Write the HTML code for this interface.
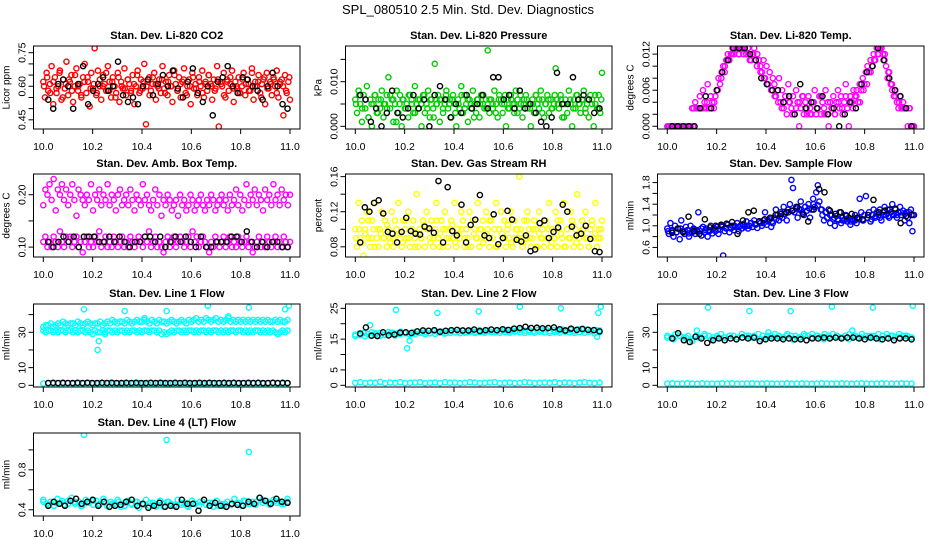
<!DOCTYPE html>
<html><head><meta charset="utf-8"><style>
html,body{margin:0;padding:0;background:#fff}
svg{display:block;font-family:"Liberation Sans",Arial,sans-serif}
</style></head><body>
<svg id="c" width="936" height="540" viewBox="0 0 936 540">
<text x="468" y="14" text-anchor="middle" font-size="13">SPL_080510  2.5 Min. Std. Dev. Diagnostics</text>
</svg>
<script>
// ---- data (x = time, evenly spaced from 10.0 to 11.0) ----
const xTicks=[10.0,10.2,10.4,10.6,10.8,11.0];
const co2Red=[0.62,0.55,0.66,0.58,0.61,0.69,0.52,0.64,0.57,0.60,0.67,0.54,0.63,0.59,0.71,0.56,0.62,0.65,0.53,0.60,0.68,0.58,0.61,0.55,0.64,0.70,0.57,0.62,0.51,0.66,0.59,0.77,0.56,0.67,0.60,0.54,0.65,0.61,0.58,0.69,0.62,0.55,0.64,0.60,0.57,0.66,0.53,0.62,0.59,0.68,0.56,0.63,0.61,0.58,0.65,0.52,0.60,0.67,0.57,0.63,0.59,0.70,0.43,0.62,0.64,0.58,0.61,0.66,0.54,0.60,0.63,0.57,0.69,0.59,0.62,0.56,0.65,0.60,0.53,0.67,0.61,0.58,0.64,0.55,0.62,0.68,0.57,0.60,0.63,0.52,0.66,0.59,0.61,0.56,0.64,0.60,0.67,0.55,0.62,0.58,0.65,0.61,0.54,0.63,0.59,0.69,0.42,0.62,0.60,0.66,0.55,0.63,0.58,0.61,0.67,0.53,0.62,0.59,0.64,0.57,0.60,0.66,0.56,0.63,0.61,0.58,0.68,0.54,0.62,0.60,0.65,0.57,0.61,0.63,0.52,0.66,0.59,0.62,0.56,0.64,0.60,0.67,0.55,0.61,0.63,0.47,0.65,0.57,0.62,0.54];
const co2Red2=[0.60,0.64,0.57,0.62,0.59,0.66,0.55,0.61,0.63,0.58,0.65,0.60,0.56,0.62,0.64,0.59,0.61,0.57,0.63,0.60,0.66,0.58,0.62,0.55,0.64,0.60,0.59,0.63,0.57,0.61,0.65,0.58,0.62,0.60,0.56,0.64,0.61,0.59,0.63,0.57,0.62,0.60,0.65,0.58,0.61,0.63,0.56,0.60,0.64,0.59,0.62,0.57,0.61,0.65,0.60,0.58,0.63,0.61,0.56,0.62,0.64,0.59,0.60,0.57,0.63,0.61,0.58,0.66,0.60,0.62,0.55,0.64,0.59,0.61,0.63,0.57,0.62,0.60,0.58,0.64];
const co2Black=[0.54,0.50,0.61,0.63,0.60,0.50,0.61,0.69,0.52,0.58,0.61,0.64,0.58,0.60,0.71,0.56,0.53,0.55,0.52,0.60,0.63,0.56,0.61,0.65,0.60,0.67,0.59,0.55,0.62,0.68,0.57,0.53,0.60,0.47,0.62,0.64,0.69,0.60,0.57,0.64,0.63,0.60,0.58,0.54,0.60,0.66,0.60,0.52,0.50];
const presGreen=[0.006,0.003,0.008,0.005,0.001,0.007,0.004,0.009,0.002,0.006,0.000,0.005,0.007,0.003,0.006,0.004,0.008,0.002,0.005,0.007,0.011,0.004,0.006,0.001,0.005,0.008,0.003,0.007,0.000,0.006,0.004,0.005,0.002,0.007,0.006,0.003,0.009,0.005,0.004,0.006,0.000,0.007,0.003,0.005,0.008,0.002,0.006,0.004,0.014,0.005,0.007,0.001,0.006,0.003,0.005,0.008,0.004,0.006,0.002,0.007,0.005,0.000,0.006,0.004,0.009,0.003,0.007,0.005,0.001,0.006,0.004,0.008,0.005,0.003,0.006,0.002,0.007,0.005,0.004,0.006,0.017,0.003,0.006,0.004,0.008,0.005,0.002,0.007,0.006,0.003,0.005,0.000,0.006,0.004,0.007,0.005,0.003,0.008,0.006,0.004,0.005,0.002,0.006,0.007,0.004,0.005,0.000,0.006,0.003,0.007,0.005,0.004,0.008,0.006,0.002,0.005,0.007,0.003,0.006,0.004,0.005,0.013,0.006,0.004,0.007,0.002,0.005,0.006,0.003,0.008,0.005,0.000,0.006,0.004,0.007,0.005,0.003,0.006,0.008,0.004,0.005,0.002,0.007,0.006,0.000,0.005,0.004,0.007,0.003,0.012];
const presGreen2=[0.005,0.007,0.004,0.006,0.002,0.005,0.007,0.003,0.006,0.005,0.004,0.007,0.006,0.001,0.005,0.006,0.004,0.007,0.005,0.003,0.006,0.005,0.007,0.004,0.006,0.002,0.005,0.006,0.004,0.007,0.005,0.006,0.003,0.005,0.007,0.004,0.006,0.005,0.002,0.006,0.005,0.007,0.004,0.006,0.005,0.003,0.006,0.005,0.007,0.004,0.006,0.005,0.003,0.007,0.005,0.006,0.004,0.005,0.007,0.006,0.003,0.005,0.006,0.004,0.007,0.005,0.006,0.002,0.005,0.006,0.004,0.007,0.005,0.006,0.003,0.006,0.005,0.007,0.004,0.006];
const presBlack=[0.007,0.006,0.001,0.004,0.000,0.003,0.008,0.003,0.002,0.004,0.007,0.004,0.006,0.000,0.007,0.009,0.006,0.002,0.005,0.003,0.007,0.004,0.005,0.007,0.004,0.011,0.011,0.006,0.007,0.004,0.008,0.004,0.005,0.003,0.001,0.000,0.002,0.012,0.005,0.005,0.011,0.006,0.007,0.006,0.003,0.004];
const tempMag=[0,0,0,0,0,0,0,0,0,0,0,0,0,0,0,0,0.003,0.003,0.004,0.003,0.003,0.005,0.003,0.006,0.004,0.003,0.007,0.003,0.005,0.004,0.003,0.005,0.006,0.008,0.007,0.009,0.010,0.009,0.011,0.012,0.011,0.012,0.013,0.012,0.013,0.013,0.012,0.013,0.013,0.012,0.013,0.012,0.013,0.012,0.011,0.012,0.013,0.011,0.012,0.011,0.010,0.009,0.011,0.008,0.010,0.007,0.009,0.006,0.008,0.007,0.005,0.006,0.008,0.004,0.006,0.003,0.005,0.002,0.007,0.004,0.003,0.005,0.002,0.006,0.004,0.000,0.003,0.005,0.002,0.004,0.002,0.005,0.003,0.002,0.004,0.006,0.002,0.003,0.005,0.002,0.004,0.003,0.006,0.002,0.000,0.004,0.003,0.005,0.002,0.004,0.006,0.003,0.005,0.002,0.004,0.007,0.003,0.000,0.005,0.004,0.006,0.005,0.006,0.004,0.007,0.006,0.008,0.007,0.009,0.010,0.009,0.011,0.010,0.012,0.011,0.013,0.012,0.013,0.013,0.012,0.011,0.010,0.008,0.009,0.007,0.006,0.005,0.006,0.004,0.003,0.005,0.003,0.004,0.003,0.003,0.000,0.003,0.000,0.000,0.000];
const tempMag2=[0,0,0,0,0,0,0,0,0.003,0.003,0.003,0.004,0.003,0.004,0.006,0.008,0.010,0.011,0.012,0.013,0.012,0.013,0.012,0.011,0.012,0.010,0.009,0.008,0.007,0.006,0.005,0.004,0.003,0.005,0.004,0.002,0.003,0.004,0.005,0.003,0.002,0.004,0.003,0.005,0.002,0.004,0.003,0.002,0.004,0.003,0.005,0.004,0.003,0.005,0.004,0.006,0.007,0.009,0.011,0.012,0.013,0.012,0.009,0.007,0.005,0.004,0.003,0.003,0.003,0];
const tempBlack=[0,0,0,0,0,0.003,0.005,0.003,0.006,0.009,0.011,0.013,0.013,0.013,0.012,0.011,0.008,0.007,0.006,0.006,0.004,0.005,0.002,0.007,0.003,0.004,0.003,0.005,0.002,0.003,0.000,0.002,0.004,0.003,0.007,0.009,0.010,0.013,0.011,0.008,0.006,0.005,0.003,0.000];
const ambUpper=[0.18,0.21,0.20,0.22,0.19,0.23,0.17,0.21,0.20,0.22,0.19,0.21,0.18,0.20,0.22,0.19,0.16,0.21,0.20,0.19,0.18,0.20,0.19,0.22,0.17,0.20,0.19,0.21,0.18,0.20,0.19,0.22,0.18,0.20,0.19,0.17,0.20,0.21,0.18,0.19,0.20,0.18,0.21,0.19,0.17,0.20,0.19,0.18,0.22,0.19,0.20,0.18,0.17,0.19,0.21,0.18,0.20,0.16,0.19,0.18,0.20,0.19,0.17,0.18,0.19,0.16,0.20,0.18,0.19,0.17,0.18,0.20,0.19,0.17,0.18,0.19,0.20,0.18,0.17,0.19,0.18,0.20,0.19,0.17,0.18,0.19,0.20,0.18,0.19,0.17,0.20,0.18,0.19,0.21,0.18,0.20,0.17,0.19,0.22,0.18,0.20,0.19,0.21,0.18,0.20,0.19,0.17,0.21,0.19,0.20,0.18,0.22,0.19,0.20,0.18,0.21,0.19,0.20,0.18,0.20];
const ambLower=[0.11,0.12,0.10,0.11,0.10,0.12,0.11,0.10,0.13,0.11,0.10,0.12,0.11,0.12,0.10,0.11,0.12,0.10,0.11,0.09,0.11,0.12,0.10,0.11,0.10,0.12,0.11,0.13,0.10,0.11,0.12,0.10,0.11,0.10,0.12,0.11,0.10,0.11,0.12,0.10,0.11,0.10,0.12,0.11,0.10,0.11,0.12,0.11,0.10,0.12,0.11,0.13,0.10,0.11,0.12,0.10,0.11,0.10,0.09,0.11,0.12,0.10,0.11,0.12,0.10,0.11,0.12,0.11,0.10,0.11,0.12,0.10,0.13,0.11,0.12,0.10,0.11,0.12,0.11,0.10,0.09,0.11,0.10,0.12,0.11,0.10,0.11,0.12,0.10,0.11,0.12,0.10,0.11,0.10,0.12,0.11,0.10,0.11,0.12,0.10,0.11,0.09,0.10,0.11,0.12,0.10,0.11,0.10,0.12,0.11,0.10,0.11,0.12,0.10,0.11,0.10,0.12,0.11,0.10,0.11];
const ambBlack=[0.11,0.10,0.11,0.12,0.11,0.12,0.10,0.12,0.12,0.12,0.11,0.11,0.12,0.11,0.12,0.11,0.10,0.11,0.11,0.12,0.12,0.11,0.12,0.10,0.11,0.12,0.11,0.12,0.11,0.10,0.12,0.10,0.10,0.11,0.11,0.11,0.12,0.12,0.11,0.13,0.11,0.10,0.11,0.10,0.11,0.11,0.10,0.10];
const rhYellow=[0.10,0.08,0.13,0.09,0.11,0.07,0.10,0.12,0.09,0.08,0.11,0.10,0.13,0.09,0.08,0.10,0.12,0.09,0.11,0.08,0.10,0.09,0.12,0.08,0.11,0.10,0.13,0.09,0.08,0.11,0.10,0.09,0.12,0.08,0.10,0.11,0.09,0.14,0.08,0.10,0.09,0.11,0.08,0.12,0.10,0.09,0.11,0.08,0.10,0.13,0.09,0.08,0.11,0.10,0.12,0.09,0.08,0.10,0.11,0.09,0.13,0.08,0.10,0.09,0.12,0.11,0.08,0.10,0.09,0.12,0.08,0.11,0.10,0.09,0.13,0.08,0.10,0.11,0.09,0.12,0.10,0.08,0.11,0.09,0.10,0.13,0.08,0.10,0.12,0.09,0.11,0.08,0.10,0.09,0.12,0.08,0.11,0.10,0.09,0.16,0.10,0.08,0.11,0.09,0.12,0.10,0.08,0.09,0.11,0.10,0.08,0.12,0.09,0.10,0.08,0.11,0.09,0.13,0.08,0.10,0.09,0.12,0.08,0.10,0.11,0.09,0.13,0.08,0.10,0.09,0.12,0.11,0.08,0.10,0.14,0.09,0.08,0.11,0.10,0.12,0.09,0.08,0.10,0.11,0.09,0.13,0.08,0.10,0.09,0.11];
const rhYellow2=[0.09,0.10,0.085,0.095,0.11,0.09,0.08,0.10,0.095,0.09,0.105,0.085,0.09,0.10,0.095,0.085,0.11,0.09,0.10,0.08,0.095,0.09,0.105,0.10,0.085,0.09,0.11,0.095,0.08,0.10,0.09,0.105,0.085,0.095,0.10,0.09,0.08,0.105,0.095,0.09,0.10,0.085,0.095,0.11,0.09,0.08,0.10,0.095,0.09,0.105,0.085,0.09,0.10,0.095,0.085,0.11,0.09,0.10,0.08,0.095,0.09,0.105,0.10,0.085,0.09,0.11,0.095,0.08,0.10,0.09,0.105,0.085,0.095,0.10,0.09,0.08,0.105,0.095,0.09,0.10];
const rhBlack=[0.085,0.125,0.12,0.13,0.133,0.118,0.097,0.095,0.085,0.097,0.113,0.098,0.095,0.094,0.103,0.101,0.096,0.155,0.085,0.148,0.098,0.093,0.128,0.085,0.105,0.111,0.139,0.093,0.090,0.117,0.083,0.090,0.121,0.111,0.088,0.086,0.093,0.075,0.077,0.107,0.110,0.090,0.097,0.102,0.128,0.120,0.103,0.093,0.095,0.104,0.089,0.075,0.074];
const flowBlue=[0.95,0.85,1.05,0.90,0.80,1.00,0.88,0.95,0.75,1.10,0.90,0.85,0.98,0.92,0.80,1.00,0.88,0.95,0.85,0.92,1.25,0.90,0.82,0.98,0.88,0.95,0.80,0.92,1.00,0.86,0.95,0.90,0.98,0.85,0.93,1.00,0.45,0.90,0.96,1.02,0.88,0.95,1.00,0.92,0.98,1.05,0.90,1.00,0.95,1.03,0.98,1.08,0.95,1.00,1.05,0.98,1.10,1.02,0.96,1.08,1.05,1.00,1.10,1.25,1.02,1.08,1.12,0.98,1.05,1.15,1.30,1.20,1.10,1.25,1.15,1.35,1.22,1.10,1.30,1.40,1.85,1.70,1.25,1.35,1.15,1.30,1.45,1.25,1.20,1.35,1.28,1.40,1.15,1.30,1.50,1.35,1.62,1.75,1.45,1.30,1.20,1.10,1.25,1.15,1.30,1.05,1.20,1.12,1.00,1.18,1.10,1.25,1.05,1.15,1.10,1.20,1.08,1.15,1.02,1.12,1.10,1.20,1.05,1.15,1.50,1.25,1.10,1.20,1.55,1.15,1.25,1.08,1.20,1.30,1.15,1.25,1.20,1.30,1.10,1.25,1.35,1.20,1.30,1.15,1.25,1.40,1.20,1.30,1.15,1.25,1.35,1.20,1.28,1.10,1.25,1.15,1.05,1.30,0.90,1.20];
const flowBlue2=[0.90,0.92,0.88,0.95,0.90,0.86,0.93,0.90,0.95,0.92,0.90,0.96,0.93,0.98,0.95,0.97,1.00,0.98,1.02,1.00,1.05,1.03,1.08,1.05,1.10,1.08,1.12,1.18,1.22,1.25,1.28,1.32,1.30,1.35,1.32,1.40,1.38,1.30,1.25,1.20,1.15,1.12,1.10,1.12,1.08,1.10,1.12,1.10,1.15,1.12,1.18,1.15,1.20,1.18,1.22,1.20,1.25,1.22,1.25,1.20];
const flowBlack=[0.87,0.95,0.88,1.17,0.90,0.85,1.12,0.97,1.00,1.02,1.04,1.07,0.85,1.10,1.25,1.28,1.08,1.12,1.15,1.20,1.22,1.25,1.28,1.35,1.22,1.08,1.30,1.68,1.62,1.28,1.22,1.25,1.18,1.22,1.15,1.12,1.20,1.48,1.25,1.28,1.30,1.32,1.05,1.18,1.20];
const l1Upper=[33,34,34,35,33,34,35,34,36,35,34,35,35,34,36,35,34,35,36,35,34,35,35,36,34,35,36,35,37,36,35,36,36,35,37,36,35,36,37,36,36,37,36,35,37,36,35,37,36,36,35,36,37,36,35,36,37,36,35,37,36,37,38,36,37,36,38,37,36,37,38,36,37,36,37,38,36,37,36,37,36,37,36,37,36,37,36,37,36,37,36,37,36,36,37,36,37,36,36,37];
const l1Lower=[31,30,31,31,30,31,30,31,31,30,31,31,30,31,30,31,31,30,31,30,29,31,30,30,31,30,31,31,30,31,30,31,31,30,31,30,31,31,30,31,30,31,31,30,31,31,30,31,29,30,29,30,31,30,31,31,30,31,30,31,31,30,31,30,31,31,30,31,30,31,31,30,31,30,31,30,31,31,30,31,31,30,31,30,31,30,31,31,30,31,30,31,30,31,30,29,30,31,30,31];
const l1Zero=[1.0,1.2,0.9,1.1,1.0,1.3,0.8,1.1,1.0,1.2,0.9,1.0,1.1,1.2,0.9,1.0,1.1,0.8,1.2,1.0,1.1,0.9,1.0,1.2,1.1,0.9,1.0,1.1,1.2,0.9,1.0,1.1,0.8,1.0,1.2,1.1,0.9,1.0,1.1,1.0,1.2,0.9,1.1,1.0,0.9,1.1,1.2,1.0,0.9,1.1];
const l1Black=[1.3,1.4,1.3,1.4,1.3,1.3,1.4,1.3,1.4,1.3,1.3,1.4,1.3,1.4,1.3,1.3,1.4,1.3,1.4,1.3,1.3,1.4,1.3,1.4,1.3,1.3,1.4,1.3,1.4,1.3,1.3,1.4,1.3,1.4,1.3,1.3,1.4,1.3,1.4,1.3,1.3,1.4,1.3,1.4,1.3,1.3,1.4,1.3,1.4,1.3];
const l1OutX=[10.165,10.22,10.225,10.25,10.33,10.41,10.5,10.667,10.75,10.833,10.98,10.995];
const l1OutY=[43,20,25,29,42,38,42,45,39,44,43,45];
const l2Band=[16.5,16.8,17.0,16.6,17.2,16.9,17.0,16.4,17.3,17.1,16.8,17.4,17.0,16.7,17.2,17.5,17.1,17.3,16.9,17.6,17.2,17.4,17.0,17.7,17.3,17.5,17.8,17.2,17.6,17.4,17.9,17.5,17.7,17.3,17.8,17.6,18.0,17.5,17.8,17.6,18.1,17.7,17.9,17.5,18.0,17.8,18.2,17.6,17.9,17.7,18.1,17.8,18.0,17.6,18.2,17.9,18.1,17.7,18.0,17.8];
const l2Band2=[16.0,16.3,15.9,16.2,16.5,16.1,16.4,16.8,16.2,16.6,16.9,16.5,16.7,17.0,16.6,16.9,16.7,17.1,16.8,17.0,17.2,16.9,17.1,17.3,17.0,17.2,17.1,17.4,17.2,17.0,17.3,17.1,17.4,17.2,17.0,17.3,17.1,17.4,17.2,17.0,17.3,17.1,17.4,17.2,17.0,17.3,17.1,17.4,16.9,17.2];
const l2Zero=[0.8,1.0,0.7,0.9,0.8,1.1,0.7,0.9,0.8,1.0,0.7,0.8,0.9,1.0,0.7,0.8,0.9,0.7,1.0,0.8,0.9,0.7,0.8,1.0,0.9,0.7,0.8,0.9,1.0,0.7,0.8,0.9,0.7,0.8,1.0,0.9,0.7,0.8,0.9,0.8,1.0,0.7,0.9,0.8,0.7,0.9,1.0,0.8,0.7,0.9];
const l2Black=[16.8,18.8,16.1,16.0,17.2,16.2,16.5,17.1,17.2,17.0,17.5,17.8,17.7,17.9,17.4,17.7,17.9,18.0,17.8,17.8,18.1,17.6,17.9,18.1,17.9,18.2,18.0,18.4,18.6,19.0,18.6,18.7,18.5,18.6,18.8,18.2,17.8,18.4,18.0,18.3,18.0,17.9,17.5];
const l2OutX=[10.06,10.165,10.21,10.22,10.333,10.5,10.667,10.833,10.98,10.985,10.995];
const l2OutY=[19.5,24.5,12.0,14.5,23.5,24.0,25.5,25.0,15.8,23.5,25.5];
const l3Band=[28,27,29,28,27,28,26,28,27,29,28,27,28,29,27,28,28,27,29,28,27,28,29,28,27,28,29,28,27,29,28,28,27,29,28,29,28,27,29,28,29,28,27,28,29,28,27,29,28,28,27,29,28,29,28,27,29,28,28,27];
const l3Band2=[27,26,28,27,25,27,28,26,27,27,28,26,27,28,27,26,28,27,27,28,26,27,28,27,28,26,27,28,27,26,28,27,27,28,26,27,28,27,28,27];
const l3Zero=[1.0,1.1,0.9,1.0,1.1,1.0,0.9,1.1,1.0,1.0,0.9,1.1,1.0,1.1,0.9,1.0,1.0,1.1,0.9,1.0,1.1,1.0,0.9,1.0,1.1,0.9,1.0,1.1,1.0,0.9,1.0,1.1,1.0,0.9,1.0,1.1,1.0,0.9,1.0,1.1,1.0,0.9,1.0,1.1,1.0,1.0,0.9,1.1,1.0,1.0];
const l3Black=[26.5,29.5,25.5,24.5,27.5,26.5,24.0,25.5,26.5,25.5,26.5,26.0,27.0,26.5,27.0,25.0,26.0,26.5,26.5,26.0,26.5,26.0,26.0,25.5,26.5,26.5,27.0,26.5,27.0,26.5,27.0,27.0,26.5,26.0,27.0,26.5,26.0,26.5,25.5,26.5,26.5,26.0];
const l3OutX=[10.12,10.165,10.333,10.41,10.5,10.667,10.75,10.833,10.995];
const l3OutY=[31,44,42,30,42,44.5,31,44,45];
const l4Band=[0.50,0.46,0.48,0.44,0.51,0.47,0.45,0.49,0.52,0.46,0.48,0.44,0.50,0.47,0.45,0.49,0.46,0.51,0.44,0.48,0.46,0.50,0.43,0.47,0.49,0.45,0.48,0.42,0.46,0.50,0.44,0.47,0.45,0.49,0.43,0.48,0.46,0.44,0.50,0.45,0.47,0.43,0.49,0.46,0.44,0.48,0.45,0.47,0.43,0.49,0.46,0.44,0.48,0.45,0.51,0.47,0.44,0.49,0.46,0.48,0.45,0.52,0.47,0.49,0.45,0.50,0.47,0.48,0.46,0.51];
const l4Band2=[0.48,0.45,0.47,0.49,0.46,0.48,0.44,0.47,0.49,0.45,0.47,0.46,0.48,0.44,0.46,0.48,0.45,0.47,0.43,0.46,0.48,0.45,0.47,0.44,0.46,0.48,0.45,0.47,0.44,0.46,0.45,0.47,0.49,0.46,0.48,0.50,0.47,0.49,0.46,0.48];
const l4Black=[0.44,0.48,0.46,0.44,0.49,0.51,0.46,0.48,0.50,0.44,0.48,0.43,0.44,0.45,0.48,0.50,0.44,0.46,0.42,0.44,0.47,0.43,0.44,0.43,0.50,0.46,0.46,0.39,0.50,0.44,0.47,0.44,0.43,0.46,0.45,0.44,0.48,0.46,0.52,0.49,0.46,0.51,0.48,0.47];
const l4OutX=[10.165,10.5,10.833];
const l4OutY=[1.15,1.10,0.98];

// ---- layout ----
const NS="http://www.w3.org/2000/svg";
const svg=document.getElementById('c');
const colL=[33.5,345.5,657.5], rowT=[46,174,304,433], W=266.5, H=83;
function mk(tag,attrs,parent){const e=document.createElementNS(NS,tag);for(const k in attrs)e.setAttribute(k,attrs[k]);(parent||svg).appendChild(e);return e;}
function panel(cfg){
  const g=mk('g',{});
  
  
  const L=colL[cfg.c],T=rowT[cfg.r];
  const sx=x=>L+9.8+(x-10)*246.7;
  const sy=y=>T+H-(y-cfg.lo)/(cfg.hi-cfg.lo)*H;
  const t=mk('text',{x:L+W/2,y:T-7,'text-anchor':'middle','font-size':'11','font-weight':'bold'},g);
  t.textContent=cfg.title;
  
  
  const yl=mk('text',{x:0,y:0,'text-anchor':'middle','font-size':'10',transform:`translate(${L-24},${T+H/2}) rotate(-90)`},g);
  yl.textContent=cfg.ylab;
  
  
  const xa=mk('g',{},g);
  
  
  mk('line',{x1:sx(10),x2:sx(11),y1:T+H,y2:T+H,stroke:'#000'},xa);
  xTicks.forEach(v=>{mk('line',{x1:sx(v),x2:sx(v),y1:T+H,y2:T+H+5,stroke:'#000'},xa);
    const tl=mk('text',{x:sx(v),y:T+H+21,'text-anchor':'middle','font-size':'10.5'},xa);tl.textContent=v.toFixed(1);});
  const ya=mk('g',{},g);
  
  
  const tk=cfg.ticks;
  mk('line',{x1:L,x2:L,y1:sy(tk[0]),y2:sy(tk[tk.length-1]),stroke:'#000'},ya);
  tk.forEach((v,i)=>{mk('line',{x1:L,x2:L-5,y1:sy(v),y2:sy(v),stroke:'#000'},ya);
    if(cfg.labels[i]!==''){const tl=mk('text',{x:0,y:0,'text-anchor':'middle','font-size':'10.5',transform:`translate(${L-8},${sy(v)}) rotate(-90)`},ya);tl.textContent=cfg.labels[i];}});
  const clip='cl'+cfg.name;
  const cp=mk('clipPath',{id:clip},g);mk('rect',{x:L,y:T,width:W,height:H},cp);
  const pg=mk('g',{'clip-path':`url(#${clip})`},g);
  cfg.series.forEach(s=>{
    const sg=mk('g',{fill:'none',stroke:s.col,'stroke-width':'1.4'},pg);
    
    
    const n=s.y.length;
    s.y.forEach((v,i)=>{
      const xv=s.x?s.x[i]:(s.x0+(s.x1-s.x0)*i/(n-1));
      const c=mk('circle',{cx:sx(xv),cy:sy(v),r:2.6},sg);
      
      
    });
  });
  const box=mk('rect',{x:L,y:T,width:W,height:H,fill:'none',stroke:'#000'},g);
  
  
}
const R='#ff0000',G='#00cc00',M='#ff00ff',Y='#ffff00',B='#0000ff',C='#00ffff',K='#000';
panel({name:'panel-co2',c:0,r:0,title:'Stan. Dev. Li-820 CO2',ylab:'Licor ppm',lo:0.409,hi:0.780,ticks:[0.45,0.50,0.55,0.60,0.65,0.70,0.75],labels:['0.45','','','0.60','','','0.75'],
 series:[{name:'co2-red',col:R,y:co2Red,x0:10,x1:11},{name:'co2-red-2',col:R,y:co2Red2,x0:10.003,x1:10.997},{name:'co2-black',col:K,y:co2Black,x0:10.02,x1:10.99}]});
panel({name:'panel-pressure',c:1,r:0,title:'Stan. Dev. Li-820 Pressure',ylab:'kPa',lo:-0.0006,hi:0.018,ticks:[0,0.005,0.010,0.015],labels:['0.000','','0.010',''],
 series:[{name:'pressure-green',col:G,y:presGreen,x0:10,x1:11},{name:'pressure-green-2',col:G,y:presGreen2,x0:10.003,x1:10.997},{name:'pressure-black',col:K,y:presBlack,x0:10.02,x1:10.99}]});
panel({name:'panel-temp',c:2,r:0,title:'Stan. Dev. Li-820 Temp.',ylab:'degrees C',lo:-0.00045,hi:0.01335,ticks:[0,0.002,0.004,0.006,0.008,0.010,0.012],labels:['0.000','','','0.006','','','0.012'],
 series:[{name:'temp-magenta',col:M,y:tempMag,x0:10,x1:11},{name:'temp-magenta-2',col:M,y:tempMag2,x0:10.003,x1:10.997},{name:'temp-black',col:K,y:tempBlack,x0:10.02,x1:10.99}]});
panel({name:'panel-amb-box',c:0,r:1,title:'Stan. Dev. Amb. Box Temp.',ylab:'degrees C',lo:0.0811,hi:0.2396,ticks:[0.10,0.15,0.20],labels:['0.10','','0.20'],
 series:[{name:'amb-upper',col:M,y:ambUpper,x0:10,x1:11},{name:'amb-lower',col:M,y:ambLower,x0:10,x1:11},{name:'amb-black',col:K,y:ambBlack,x0:10.02,x1:10.99}]});
panel({name:'panel-rh',c:1,r:1,title:'Stan. Dev. Gas Stream RH',ylab:'percent',lo:0.0684,hi:0.163,ticks:[0.08,0.10,0.12,0.14,0.16],labels:['0.08','','0.12','','0.16'],
 series:[{name:'rh-yellow',col:Y,y:rhYellow,x0:10,x1:11},{name:'rh-yellow-2',col:Y,y:rhYellow2,x0:10.003,x1:10.997},{name:'rh-black',col:K,y:rhBlack,x0:10.02,x1:10.99}]});
panel({name:'panel-sample-flow',c:2,r:1,title:'Stan. Dev. Sample Flow',ylab:'ml/min',lo:0.4226,hi:1.959,ticks:[0.6,0.8,1.0,1.2,1.4,1.6,1.8],labels:['0.6','','1.0','','1.4','','1.8'],
 series:[{name:'flow-blue',col:B,y:flowBlue,x0:10,x1:11},{name:'flow-blue-2',col:B,y:flowBlue2,x0:10.003,x1:10.997},{name:'flow-black',col:K,y:flowBlack,x0:10.02,x1:10.99}]});
panel({name:'panel-line1',c:0,r:2,title:'Stan. Dev. Line 1 Flow',ylab:'ml/min',lo:-0.96,hi:46,ticks:[0,10,20,30,40],labels:['0','10','','30',''],
 series:[{name:'line1-upper',col:C,y:l1Upper,x0:10,x1:10.99},{name:'line1-lower',col:C,y:l1Lower,x0:10,x1:10.99},{name:'line1-zero',col:C,y:l1Zero,x0:10,x1:10.99},{name:'line1-outliers',col:C,y:l1OutY,x:l1OutX},{name:'line1-black',col:K,y:l1Black,x0:10.02,x1:10.99}]});
panel({name:'panel-line2',c:1,r:2,title:'Stan. Dev. Line 2 Flow',ylab:'ml/min',lo:-0.55,hi:26.4,ticks:[0,5,10,15,20,25],labels:['0','5','','15','','25'],
 series:[{name:'line2-band',col:C,y:l2Band,x0:10,x1:10.99},{name:'line2-band-2',col:C,y:l2Band2,x0:10,x1:10.99},{name:'line2-zero',col:C,y:l2Zero,x0:10,x1:10.99},{name:'line2-outliers',col:C,y:l2OutY,x:l2OutX},{name:'line2-black',col:K,y:l2Black,x0:10.02,x1:10.99}]});
panel({name:'panel-line3',c:2,r:2,title:'Stan. Dev. Line 3 Flow',ylab:'ml/min',lo:-0.96,hi:46,ticks:[0,10,20,30,40],labels:['0','10','','30',''],
 series:[{name:'line3-band',col:C,y:l3Band,x0:10,x1:10.99},{name:'line3-band-2',col:C,y:l3Band2,x0:10,x1:10.99},{name:'line3-zero',col:C,y:l3Zero,x0:10,x1:10.99},{name:'line3-outliers',col:C,y:l3OutY,x:l3OutX},{name:'line3-black',col:K,y:l3Black,x0:10.02,x1:10.99}]});
panel({name:'panel-line4',c:0,r:3,title:'Stan. Dev. Line 4 (LT) Flow',ylab:'ml/min',lo:0.3376,hi:1.169,ticks:[0.4,0.6,0.8,1.0],labels:['0.4','','0.8',''],
 series:[{name:'line4-band',col:C,y:l4Band,x0:10,x1:10.99},{name:'line4-band-2',col:C,y:l4Band2,x0:10,x1:10.99},{name:'line4-outliers',col:C,y:l4OutY,x:l4OutX},{name:'line4-black',col:K,y:l4Black,x0:10.02,x1:10.99}]});
</script>
</body></html>
